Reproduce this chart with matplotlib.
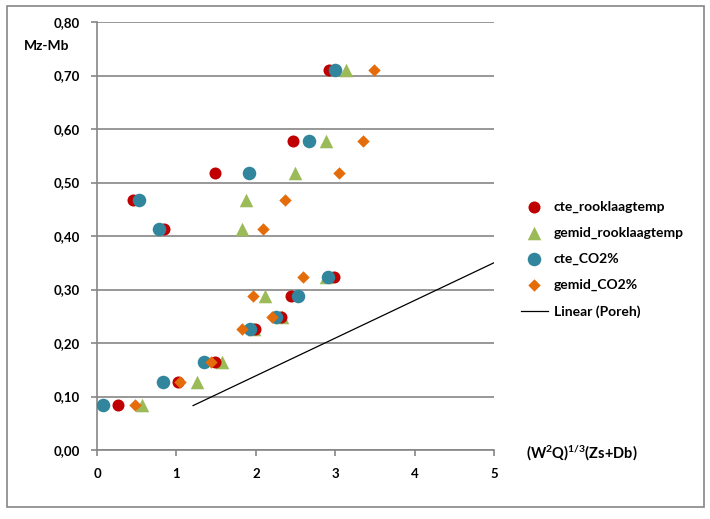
import matplotlib
matplotlib.use("Agg")
import matplotlib.pyplot as plt
from matplotlib.patches import Rectangle

plt.rcParams['font.family'] = ['Lato', 'DejaVu Sans']
plt.rcParams['mathtext.fontset'] = 'custom'
plt.rcParams['mathtext.bf'] = 'Lato:weight=bold'
plt.rcParams['mathtext.rm'] = 'Lato:weight=bold'
plt.rcParams['mathtext.it'] = 'Lato:weight=bold'

y_vals = [0.084, 0.128, 0.165, 0.227, 0.248, 0.287, 0.323, 0.414, 0.467, 0.518, 0.577, 0.710]
cte_rook = [0.26, 1.02, 1.48, 1.99, 2.32, 2.44, 2.98, 0.85, 0.45, 1.49, 2.47, 2.92]
gemid_rook = [0.57, 1.26, 1.57, 1.98, 2.33, 2.11, 2.88, 1.82, 1.88, 2.49, 2.89, 3.14]
cte_co2 = [0.08, 0.83, 1.35, 1.93, 2.26, 2.53, 2.91, 0.78, 0.53, 1.91, 2.67, 3.00]
gemid_co2 = [0.48, 1.05, 1.44, 1.82, 2.21, 1.97, 2.59, 2.09, 2.37, 3.05, 3.35, 3.49]
poreh_x = [1.21, 5.0]
poreh_y = [0.083, 0.350]

labels = ['cte_rooklaagtemp', 'gemid_rooklaagtemp', 'cte_CO2%', 'gemid_CO2%', 'Linear (Poreh)']
colors = ['#C00000', '#9BBB59', '#31859C', '#E46C0A']

fig = plt.figure(figsize=(7.10, 5.19), dpi=100)
ax = fig.add_axes([97/710, 1-450/519, (494-97)/710, (450-22)/519])

h1 = ax.scatter(cte_rook, y_vals, s=75, marker='o', color=colors[0], zorder=4, linewidths=0)
h2 = ax.scatter(gemid_rook, y_vals, s=95, marker='^', color=colors[1], zorder=3, linewidths=0)
h3 = ax.scatter(cte_co2, y_vals, s=95, marker='o', color=colors[2], zorder=5, linewidths=0)
h4 = ax.scatter(gemid_co2, y_vals, s=40, marker='D', color=colors[3], zorder=6, linewidths=0)
h5, = ax.plot(poreh_x, poreh_y, color='#000000', lw=0.9, zorder=7)

ax.set_xlim(0, 5)
ax.set_ylim(0, 0.8)
ax.set_xticks(range(0, 6))
ax.set_yticks([i/10 for i in range(9)])
ax.set_yticklabels([f"{i/10:.2f}".replace('.', ',') for i in range(9)])
ax.grid(axis='y', color='#868686', lw=1.2)
ax.set_axisbelow(True)
for s in ['top', 'right']:
    ax.spines[s].set_visible(False)
for s in ['left', 'bottom']:
    ax.spines[s].set_color('#868686')
    ax.spines[s].set_linewidth(1.2)
ax.tick_params(axis='both', colors='#868686', length=4, width=1.2, labelcolor='black', labelsize=9.5)
ax.tick_params(axis='y', pad=8)
ax.tick_params(axis='x', pad=9)
for lbl in ax.get_xticklabels() + ax.get_yticklabels():
    lbl.set_fontweight('bold')

fig.text(47/710, 1-46/519, 'Mz-Mb', ha='center', va='center', fontsize=10, fontweight='bold')
fig.text(582/710, 1-453/519, r'$\mathbf{(W^{2}Q)^{1/3}(Zs{+}Db)}$', ha='center', va='center', fontsize=10.5)

leg = fig.legend([h1, h2, h3, h4, h5], labels, loc='upper left',
                 bbox_to_anchor=(508/710, 1-188/519), frameon=False,
                 prop={'size': 10, 'weight': 'bold'}, labelspacing=1.0,
                 handlelength=2.0, handletextpad=0.4, scatterpoints=1)

fig.patches.append(Rectangle((7/710, 1-507/519), (704-7)/710, (507-6)/519,
                             transform=fig.transFigure, fill=False, edgecolor='#868686', lw=1.2))

fig.savefig('out.png', dpi=100)
